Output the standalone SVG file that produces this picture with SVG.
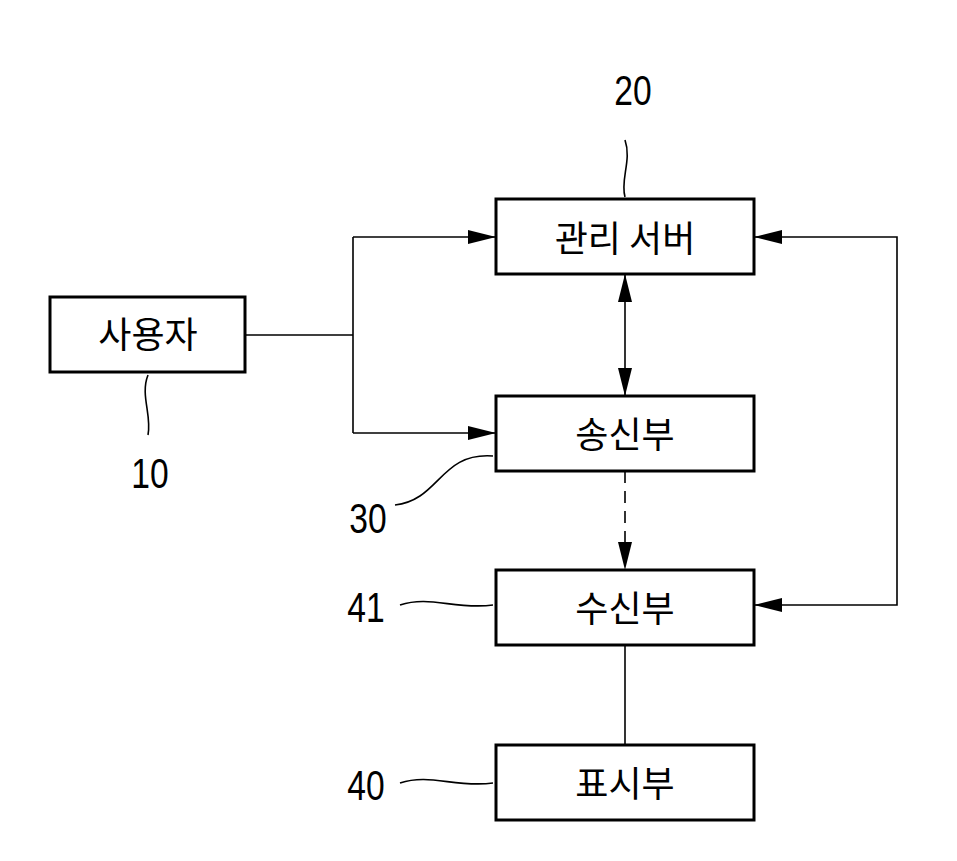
<svg xmlns="http://www.w3.org/2000/svg" width="957" height="861" viewBox="0 0 957 861">
<style>
.box{fill:#fff;stroke:#000;stroke-width:3}
.t{font-family:"Noto Sans CJK KR","Noto Sans",sans-serif;font-size:36px;text-anchor:middle}
.n{font-family:"Liberation Sans",sans-serif;font-size:42px;text-anchor:middle}
.c{fill:none;stroke:#000;stroke-width:1.6}
</style>
<defs>
<marker id="a" viewBox="0 0 10 10" refX="10" refY="5" markerWidth="14" markerHeight="14" markerUnits="userSpaceOnUse" orient="auto-start-reverse"><path d="M0,2 L10,5 L0,8z" fill="#000"/></marker>
<marker id="b" viewBox="0 0 24 12" refX="24" refY="6" markerWidth="28" markerHeight="14" markerUnits="userSpaceOnUse" orient="auto-start-reverse"><path d="M0,0 L24,6 L0,12z" fill="#000"/></marker>
</defs>
<rect width="957" height="861" fill="#fff"/>
<g id="connectors">
<path class="c" d="M245,335 H353 M353,237 V433"/>
<path class="c" d="M353,237 H496" marker-end="url(#b)"/>
<path class="c" d="M353,433 H496" marker-end="url(#b)"/>
<path class="c" d="M625,274 V396" marker-start="url(#b)" marker-end="url(#b)"/>
<path class="c" d="M625,471 V570" stroke-dasharray="12,8" marker-end="url(#b)"/>
<path class="c" d="M754,237 H897 V605 H754" marker-start="url(#b)" marker-end="url(#b)"/>
<path class="c" d="M625,645 V745"/>
<path class="c" d="M625,197 C620,180 632,160 625,140"/>
<path class="c" d="M148,375 C140,395 152,415 148,435"/>
<path class="c" d="M493,456 C440,452 440,500 395,505"/>
<path class="c" d="M400,605 C430,595 455,610 493,605"/>
<path class="c" d="M400,783 C430,773 455,788 493,783"/>
</g>
<g id="n10"><rect class="box" x="50" y="297" width="195" height="75"/><text class="t" x="148" y="348">사용자</text><text class="n" x="150" y="488" transform="translate(30,0) scale(0.8,1)">10</text></g>
<g id="n20"><rect class="box" x="496" y="199" width="258" height="75"/><text class="t" x="625" y="252">관리 서버</text><text class="n" x="633" y="105" transform="translate(126.6,0) scale(0.8,1)">20</text></g>
<g id="n30"><rect class="box" x="496" y="396" width="258" height="75"/><text class="t" x="625" y="448">송신부</text><text class="n" x="368" y="533" transform="translate(73.6,0) scale(0.8,1)">30</text></g>
<g id="n41"><rect class="box" x="496" y="570" width="258" height="75"/><text class="t" x="625" y="622">수신부</text><text class="n" x="366" y="622" transform="translate(73.2,0) scale(0.8,1)">41</text></g>
<g id="n40"><rect class="box" x="496" y="745" width="258" height="75"/><text class="t" x="625" y="797">표시부</text><text class="n" x="366" y="800" transform="translate(73.2,0) scale(0.8,1)">40</text></g>
</svg>
